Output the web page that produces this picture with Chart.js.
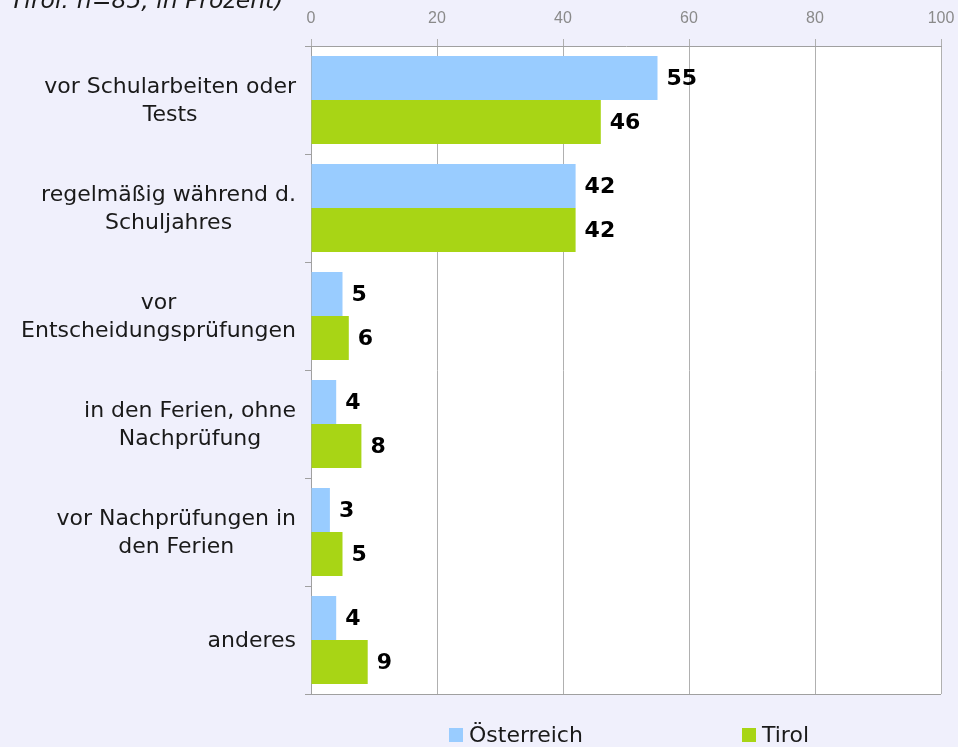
<!DOCTYPE html>
<html>
<head>
<meta charset="utf-8">
<script src="https://cdn.jsdelivr.net/npm/chart.js@4/dist/chart.umd.min.js"></script>
<style>
  html, body { margin: 0; padding: 0; background: #f0f0fc; overflow: hidden; }
  #chart { display: block; }
</style>
</head>
<body>
<canvas id="chart" width="958" height="747"></canvas>
<script>
// data
const categories = [
    ['vor Schularbeiten oder', 'Tests'],
    ['regelmäßig während d.', 'Schuljahres'],
    ['vor', 'Entscheidungsprüfungen'],
    ['in den Ferien, ohne', 'Nachprüfung'],
    ['vor Nachprüfungen in', 'den Ferien'],
    ['anderes']
];
const oesterreich = [55, 42, 5, 4, 3, 4];
const tirol = [46, 42, 6, 8, 5, 9];
const seriesNames = ['Österreich', 'Tirol'];
const seriesColors = ['#99ccff', '#a8d515'];
const titleText = 'Tirol: n=85, in Prozent)';

// white plot area + bottom border + clipped subtitle
const plotBackground = {
    id: 'plotBackground',
    beforeDraw(chart) {
        const { ctx, chartArea } = chart;
        ctx.save();
        ctx.fillStyle = '#ffffff';
        ctx.fillRect(chartArea.left, chartArea.top, chartArea.right - chartArea.left, chartArea.bottom - chartArea.top);
        ctx.fillStyle = '#1a1a1a';
        ctx.font = 'italic 23.5px "DejaVu Sans"';
        ctx.textBaseline = 'alphabetic';
        ctx.textAlign = 'left';
        ctx.fillText(titleText, 10, 8);
        ctx.restore();
    },
    afterDraw(chart) {
        const { ctx, chartArea } = chart;
        ctx.save();
        ctx.strokeStyle = '#a0a0a0';
        ctx.lineWidth = 1;
        ctx.beginPath();
        ctx.moveTo(chartArea.left - 6, chartArea.bottom + 0.5);
        ctx.lineTo(chartArea.right, chartArea.bottom + 0.5);
        ctx.stroke();
        ctx.restore();
    }
};

// category labels: block right aligned, lines centred inside the block
const categoryLabels = {
    id: 'categoryLabels',
    afterDraw(chart) {
        const { ctx } = chart;
        const yScale = chart.scales.y;
        ctx.save();
        ctx.font = '22px "DejaVu Sans"';
        ctx.fillStyle = '#1a1a1a';
        ctx.textAlign = 'center';
        ctx.textBaseline = 'middle';
        const right = chart.chartArea.left - 15;
        const lineH = 28;
        categories.forEach((lines, i) => {
            const yc = yScale.getPixelForValue(i);
            const w = Math.max(...lines.map(l => ctx.measureText(l).width));
            const xc = right - w / 2;
            lines.forEach((l, k) => {
                ctx.fillText(l, xc, yc + 1 + (k - (lines.length - 1) / 2) * lineH);
            });
        });
        ctx.restore();
    }
};

// bold value labels at the end of each bar
const valueLabels = {
    id: 'valueLabels',
    afterDatasetsDraw(chart) {
        const { ctx } = chart;
        ctx.save();
        ctx.font = 'bold 22px "DejaVu Sans"';
        ctx.fillStyle = '#000000';
        ctx.textAlign = 'left';
        ctx.textBaseline = 'middle';
        chart.data.datasets.forEach((ds, di) => {
            chart.getDatasetMeta(di).data.forEach((bar, i) => {
                ctx.fillText(ds.data[i], bar.x + 9, bar.y + 1);
            });
        });
        ctx.restore();
    }
};

// legend at the bottom
const bottomLegend = {
    id: 'bottomLegend',
    afterDraw(chart) {
        const { ctx } = chart;
        const xs = [449, 742];
        const y = 735;
        ctx.save();
        ctx.font = '22px "DejaVu Sans"';
        ctx.textBaseline = 'middle';
        ctx.textAlign = 'left';
        chart.data.datasets.forEach((ds, i) => {
            ctx.fillStyle = ds.backgroundColor;
            ctx.fillRect(xs[i], y - 7, 14, 14);
            ctx.fillStyle = '#1a1a1a';
            ctx.fillText(ds.label, xs[i] + 20, y + 1);
        });
        ctx.restore();
    }
};

const ctx = document.getElementById('chart').getContext('2d');
const chart = new Chart(ctx, {
    type: 'bar',
    data: {
        labels: categories,
        datasets: [{
            label: seriesNames[0],
            data: oesterreich,
            backgroundColor: seriesColors[0],
            categoryPercentage: 0.815,
            barPercentage: 1.0
        }, {
            label: seriesNames[1],
            data: tirol,
            backgroundColor: seriesColors[1],
            categoryPercentage: 0.815,
            barPercentage: 1.0
        }]
    },
    options: {
        indexAxis: 'y',
        responsive: false,
        animation: false,
        devicePixelRatio: 1,
        layout: { padding: { left: 0, right: 17, top: 0, bottom: 53 } },
        plugins: {
            legend: { display: false },
            tooltip: { enabled: false }
        },
        scales: {
            x: {
                position: 'top',
                min: 0,
                max: 100,
                ticks: {
                    stepSize: 20,
                    color: '#8a8a8a',
                    padding: 11,
                    font: { family: '"Liberation Sans", Arial, sans-serif', size: 16 }
                },
                grid: { color: '#b0b0b0', tickLength: 7 },
                border: { color: '#a0a0a0' },
                afterFit(scale) {
                    scale.height = 46;
                    scale.paddingLeft = 0;
                    scale.paddingRight = 0;
                }
            },
            y: {
                ticks: { display: false },
                grid: { drawOnChartArea: false, tickLength: 6, color: '#a0a0a0' },
                border: { color: '#a0a0a0' },
                afterFit(scale) { scale.width = 311; }
            }
        }
    },
    plugins: [plotBackground, categoryLabels, valueLabels, bottomLegend]
});
</script>
</body>
</html>
